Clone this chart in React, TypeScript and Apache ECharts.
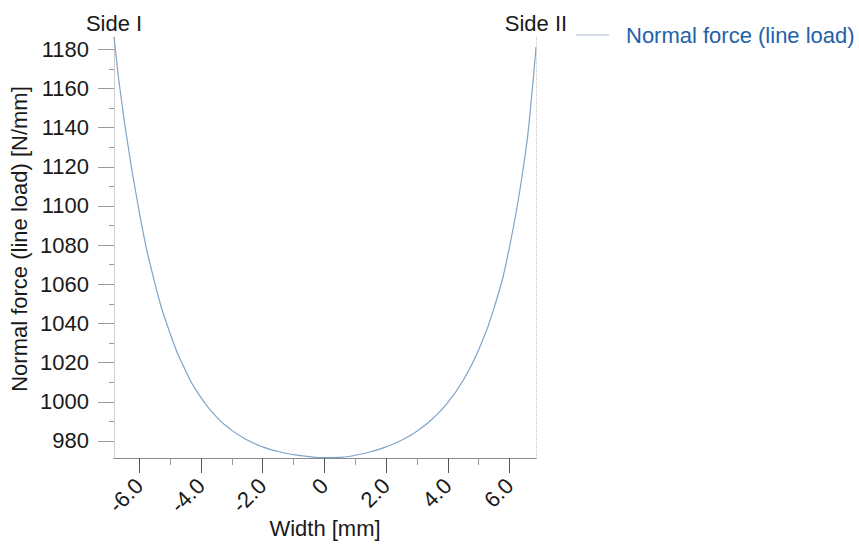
import React, { useEffect, useRef } from "react";
import * as echarts from "echarts";

// Width [mm]
const widths = [
  -6.82, -6.5, -6.0, -5.5, -5.0, -4.5, -4.0, -3.5, -3.0, -2.5, -2.0, -1.5, -1.0, -0.5, 0.0,
  0.5, 1.0, 1.5, 2.0, 2.5, 3.0, 3.5, 4.0, 4.5, 5.0, 5.5, 6.0, 6.5, 6.7, 6.86,
];
// Normal force (line load) [N/mm]
const forces = [
  1186.3, 1144.9, 1096.9, 1060.9, 1034.9, 1015.9, 1002.1, 992.3, 985.4, 980.5, 977.0, 974.6, 973.0, 972.0, 971.5,
  971.6, 972.7, 974.5, 977.0, 980.4, 985.0, 991.2, 999.6, 1011.0, 1026.5, 1047.8, 1079.0, 1125.0, 1153.0, 1181.2,
];

const xTickValues = [-6, -4, -2, 0, 2, 4, 6];
const xMinorTickValues = [-5, -3, -1, 1, 3, 5];
const yTickValues = [980, 1000, 1020, 1040, 1060, 1080, 1100, 1120, 1140, 1160, 1180];
const yMinorTickValues = [990, 1010, 1030, 1050, 1070, 1090, 1110, 1130, 1150, 1170];

const seriesName = "Normal force (line load)";
const sideLabels = ["Side I", "Side II"];

const FONT = "'Liberation Sans', Arial, sans-serif";
const TEXT = "#1a1a1a";

export default function App() {
  const ref = useRef<HTMLDivElement>(null);

  useEffect(() => {
    if (!ref.current) return;
    const chart = echarts.init(ref.current, null, { renderer: "svg" });
    const xMin = Math.min(...widths);
    const xMax = Math.max(...widths);
    const yMin = Math.min(...forces) - 0.2;
    const yMax = Math.max(...forces);

    const option: any = {
      animation: false,
      backgroundColor: "#ffffff",
      textStyle: { fontFamily: FONT },
      grid: { left: 114, right: 323, top: 37, bottom: 86, containLabel: false, outerBoundsMode: "none" },
      legend: {
        show: true,
        left: 571,
        top: 19,
        icon: "rect",
        itemWidth: 33,
        itemHeight: 1,
        itemStyle: { color: "#a9bdd2" },
        textStyle: { color: "#2461a8", fontSize: 22, fontFamily: FONT, padding: [0, 0, 0, 12] },
        data: [seriesName],
      },
      xAxis: [
        {
          type: "value",
          min: xMin,
          max: xMax,
          position: "bottom",
          name: "Width [mm]",
          nameLocation: "middle",
          nameGap: 59,
          nameMoveOverlap: false,
          nameTextStyle: { color: TEXT, fontSize: 22, fontFamily: FONT },
          axisLine: { show: true, onZero: false, lineStyle: { color: "#8a8a8a", width: 1 } },
          axisTick: { show: true, inside: false, length: 15, customValues: xTickValues, lineStyle: { color: "#555555" } },
          axisLabel: {
            show: true,
            customValues: xTickValues,
            rotate: 45,
            margin: 24,
            fontSize: 22,
            color: TEXT,
            fontFamily: FONT,
            formatter: (v: number) => (v === 0 ? "0" : v.toFixed(1)),
          },
          splitLine: { show: false },
        },
        {
          type: "value",
          min: xMin,
          max: xMax,
          position: "bottom",
          axisLine: { show: false, onZero: false },
          axisTick: { show: true, inside: false, length: 7, customValues: xMinorTickValues, lineStyle: { color: "#9a9a9a" } },
          axisLabel: { show: false },
          splitLine: { show: false },
        },
      ],
      yAxis: [
        {
          type: "value",
          min: yMin,
          max: yMax,
          position: "left",
          name: "Normal force (line load) [N/mm]",
          nameLocation: "middle",
          nameGap: 84,
          nameTextStyle: { color: TEXT, fontSize: 22, fontFamily: FONT, padding: [0, 0, 0, 17] },
          axisLine: { show: true, onZero: false, lineStyle: { color: "#cfcfcf", width: 1 } },
          axisTick: { show: true, inside: false, length: 16, customValues: yTickValues, lineStyle: { color: "#9a9a9a" } },
          axisLabel: {
            show: true,
            customValues: yTickValues,
            margin: 25,
            fontSize: 22,
            color: TEXT,
            fontFamily: FONT,
            formatter: (v: number) => String(Math.round(v)),
          },
          splitLine: { show: false },
        },
        {
          type: "value",
          min: yMin,
          max: yMax,
          position: "left",
          axisLine: { show: false, onZero: false },
          axisTick: { show: true, inside: false, length: 5, customValues: yMinorTickValues, lineStyle: { color: "#9a9a9a" } },
          axisLabel: { show: false },
          splitLine: { show: false },
        },
      ],
      series: [
        {
          name: seriesName,
          type: "line",
          xAxisIndex: 0,
          yAxisIndex: 0,
          data: widths.map((w, i) => [w, forces[i]]),
          smooth: 0.5,
          showSymbol: false,
          symbol: "none",
          lineStyle: { color: "#7fa3c8", width: 1.2 },
          itemStyle: { color: "#7fa3c8" },
          markLine: {
            silent: true,
            symbol: ["none", "none"],
            animation: false,
            data: [
              {
                xAxis: xMin,
                lineStyle: { color: "rgba(0,0,0,0)", width: 1 },
                label: { show: true, position: "end", formatter: sideLabels[0], color: TEXT, fontSize: 22, fontFamily: FONT, distance: 3 },
              },
              {
                xAxis: xMax,
                lineStyle: { color: "#c4c4c4", width: 1, type: "dotted" },
                label: { show: true, position: "end", formatter: sideLabels[1], color: TEXT, fontSize: 22, fontFamily: FONT, distance: 3 },
              },
            ],
          },
        },
      ],
    };
    chart.setOption(option);
    return () => chart.dispose();
  }, []);

  return (
    <div
      ref={ref}
      style={{ position: "absolute", left: 0, top: 0, width: 859, height: 544, background: "#ffffff" }}
    />
  );
}
